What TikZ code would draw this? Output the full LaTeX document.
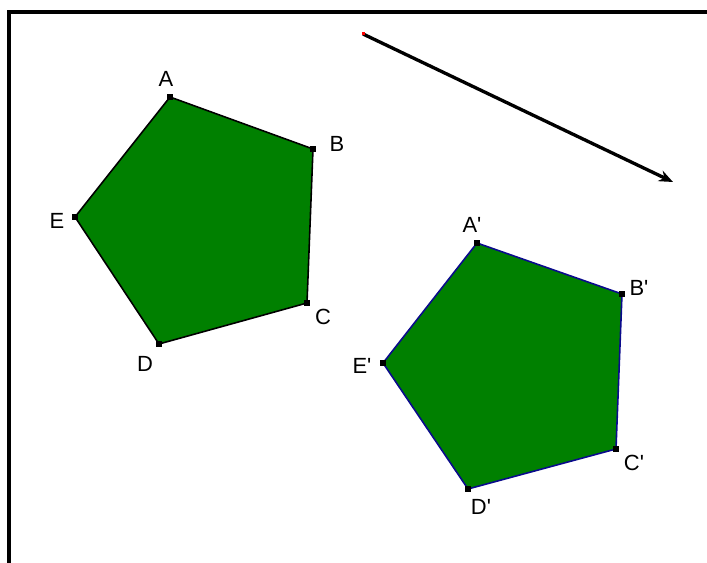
\documentclass[tikz,border=0pt]{standalone}
\usepackage{fontspec}
\setmainfont{Liberation Sans}
\usetikzlibrary{arrows.meta}
\definecolor{facegreen}{RGB}{0,128,0}
\definecolor{edgenavy}{RGB}{10,10,140}
\newcommand{\prm}{\textquotesingle}

\begin{document}
\begin{tikzpicture}[
  x=0.02cm, y=-0.02cm,
  font=\fontsize{12.5}{14}\selectfont,
  face/.style={fill=facegreen, draw=#1, line width=0.9pt, line join=miter},
  vtx/.style={fill=black, inner sep=0pt, minimum size=3pt},
  lbl/.style={inner sep=0pt},
  arr/.style={-{Stealth[length=8pt, width=6.5pt]}, line width=1.9pt}
]
\useasboundingbox (0,0) rectangle (707,563);
% frame
\draw[line width=2.3pt] (9,563) -- (9,12) -- (707,12);

% translation vector
\coordinate (vs) at (363,34);
\coordinate (ve) at (673,182);
\draw[arr] (vs) -- (ve);
\fill[red] (vs) ++(-1.5,-1.5) rectangle ++(3,3);

% original pentagon
\node[vtx] (A) at (170,97) {};
\node[vtx] (B) at (313,149) {};
\node[vtx] (C) at (307,303) {};
\node[vtx] (D) at (159,344) {};
\node[vtx] (E) at (75,217) {};
\filldraw[face=black] (A.center) -- (B.center) -- (C.center) -- (D.center) -- (E.center) -- cycle;
\foreach \v in {A,B,C,D,E} \node[vtx] at (\v) {};
\node[lbl] (lA) at (166,79) {A};
\node[lbl] (lB) at (337,144) {B};
\node[lbl] (lC) at (323,317) {C};
\node[lbl] (lD) at (145,364) {D};
\node[lbl] (lE) at (57,221) {E};

% image pentagon
\node[vtx] (A') at (477,243) {};
\node[vtx] (B') at (622,294) {};
\node[vtx] (C') at (616,449) {};
\node[vtx] (D') at (468,489) {};
\node[vtx] (E') at (383,363) {};
\filldraw[face=edgenavy] (A'.center) -- (B'.center) -- (C'.center) -- (D'.center) -- (E'.center) -- cycle;
\foreach \v in {A',B',C',D',E'} \node[vtx] at (\v) {};
\node[lbl] (lA') at (472,225) {A\prm};
\node[lbl] (lB') at (639,288) {B\prm};
\node[lbl] (lC') at (634,463) {C\prm};
\node[lbl] (lD') at (481,507) {D\prm};
\node[lbl] (lE') at (362,366) {E\prm};
\end{tikzpicture}
\end{document}
